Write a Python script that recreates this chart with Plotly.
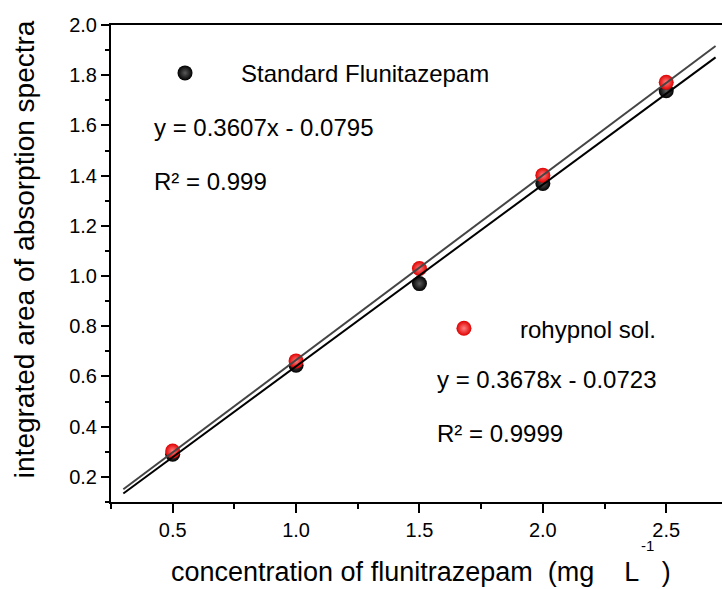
import numpy as np
import plotly.graph_objects as go

# ---- data ----
concentration = [0.5, 1.0, 1.5, 2.0, 2.5]
standard_area = [0.290, 0.645, 0.970, 1.369, 1.738]
rohypnol_area = [0.303, 0.662, 1.030, 1.402, 1.772]
standard_err = [0.012, 0.012, 0.012, 0.012, 0.012]
rohypnol_err = [0.015, 0.015, 0.015, 0.015, 0.015]
fit_x_range = [0.3, 2.7]

std_label = "Standard Flunitazepam"
roh_label = "rohypnol sol."
std_eq = "y = 0.3607x - 0.0795"
std_r2 = "R² = 0.999"
roh_eq = "y = 0.3678x - 0.0723"
roh_r2 = "R² = 0.9999"
NB = "\u00a0"
x_title = ("concentration of flunitrazepam" + NB * 2 + "(mg" + NB * 4 + "L"
           + NB * 3 + ")")
x_title_sup = "-1"
y_title = "integrated area of absorption spectra"

FONT = "Liberation Sans, Arial, sans-serif"

# least-squares fit lines
s_std = np.polyfit(concentration, standard_area, 1)
s_roh = np.polyfit(concentration, rohypnol_area, 1)
fx = np.array(fit_x_range)

fig = go.Figure()

fig.add_trace(go.Scatter(
    x=concentration, y=standard_area, mode="markers", name=std_label,
    legend="legend",
    marker=dict(size=15, color="#000000",
                gradient=dict(type="radial", color="#5a5a5a"),
                line=dict(width=0)),
    error_y=dict(type="data", array=standard_err, color="#9a9a9a",
                 thickness=1.5, width=4),
))
fig.add_trace(go.Scatter(
    x=concentration, y=rohypnol_area, mode="markers", name=roh_label,
    legend="legend2",
    marker=dict(size=15, color="#e00000",
                gradient=dict(type="radial", color="#ff8080"),
                line=dict(width=0)),
    error_y=dict(type="data", array=rohypnol_err, color="#000000",
                 thickness=1.5, width=4),
))
fig.add_trace(go.Scatter(
    x=fx, y=np.polyval(s_std, fx), mode="lines", showlegend=False,
    line=dict(color="#000000", width=2), hoverinfo="skip",
))
fig.add_trace(go.Scatter(
    x=fx, y=np.polyval(s_roh, fx), mode="lines", showlegend=False,
    line=dict(color="#454545", width=2), hoverinfo="skip",
))

ann_font = dict(family=FONT, size=24, color="#000000")
annotations = [
    dict(text=std_eq, x=0.067, y=0.786, xanchor="left", yanchor="middle"),
    dict(text=std_r2, x=0.067, y=0.672, xanchor="left", yanchor="middle"),
    dict(text=roh_eq, x=0.5298, y=0.2573, xanchor="left", yanchor="middle"),
    dict(text=roh_r2, x=0.5298, y=0.1441, xanchor="left", yanchor="middle"),
]
for a in annotations:
    a.update(xref="paper", yref="paper", showarrow=False, font=ann_font)
annotations.append(dict(text=x_title, xref="paper", yref="paper",
                        x=(421.5 - 111) / 611, y=(501.7 - 589) / 476.7,
                        xanchor="center", yanchor="bottom",
                        showarrow=False,
                        font=dict(family=FONT, size=27, color="#000000")))
annotations.append(dict(text=x_title_sup, xref="paper", yref="paper",
                        x=(647 - 111) / 611, y=(501.7 - 556) / 476.7,
                        xanchor="center", yanchor="bottom", showarrow=False,
                        font=dict(family=FONT, size=15, color="#000000")))
annotations.append(dict(text=y_title, xref="paper", yref="paper",
                        x=-0.1424, y=0.530, xanchor="center", yanchor="middle",
                        textangle=-90, showarrow=False,
                        font=dict(family=FONT, size=28, color="#000000")))

fig.update_layout(
    width=722, height=589,
    margin=dict(l=111, r=0, t=25, b=87, pad=0),
    paper_bgcolor="white", plot_bgcolor="white",
    font=dict(family=FONT, size=20, color="#000000"),
    annotations=annotations,
    legend=dict(x=0.0295, y=0.8987, xanchor="left", yanchor="middle",
                bgcolor="rgba(0,0,0,0)", borderwidth=0, itemwidth=102,
                font=dict(family=FONT, size=24, color="#000000")),
    legend2=dict(x=0.486, y=0.3633, xanchor="left", yanchor="middle",
                 bgcolor="rgba(0,0,0,0)", borderwidth=0, itemwidth=102,
                 font=dict(family=FONT, size=24, color="#000000")),
    xaxis=dict(range=[0.25, 2.726], tick0=0.5, dtick=0.5, tickformat=".1f",
               showgrid=False, zeroline=False,
               showline=True, linecolor="#000000", linewidth=2, mirror=True,
               ticks="outside", ticklen=9, tickwidth=2, tickcolor="#000000",
               minor=dict(ticks="outside", ticklen=5, tickwidth=1.5,
                          tickcolor="#000000", dtick=0.25, tick0=0.25,
                          showgrid=False),
               tickfont=dict(family=FONT, size=20, color="#000000")),
    yaxis=dict(range=[0.1, 2.0], tick0=0.2, dtick=0.2, tickformat=".1f",
               showgrid=False, zeroline=False,
               showline=True, linecolor="#000000", linewidth=2,
               ticks="outside", ticklen=8, tickwidth=2, tickcolor="#000000",
               minor=dict(ticks="outside", ticklen=4, tickwidth=1.5,
                          tickcolor="#000000", dtick=0.1, tick0=0.1,
                          showgrid=False),
               tickfont=dict(family=FONT, size=20, color="#000000")),
)

fig.write_html("out.html", config={"displayModeBar": False})
